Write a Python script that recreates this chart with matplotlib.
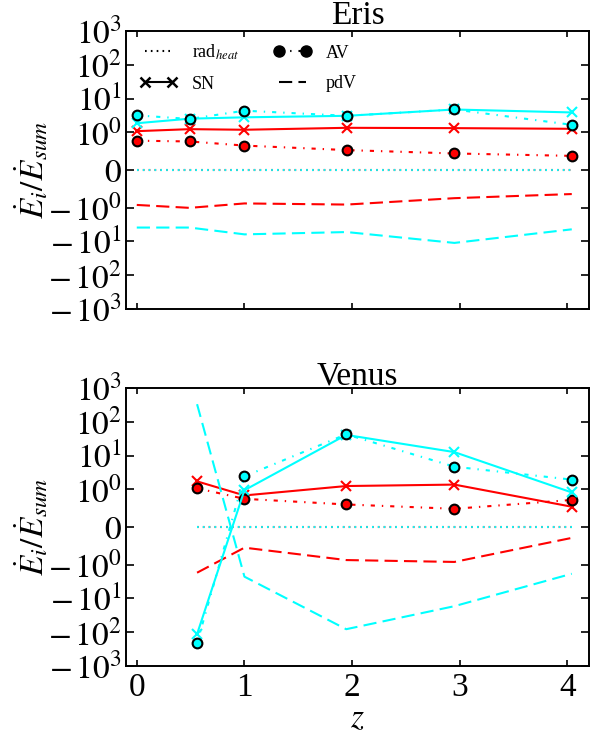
import matplotlib
matplotlib.use("Agg")
import matplotlib.pyplot as plt
from matplotlib.ticker import FixedLocator, NullLocator, FuncFormatter
from matplotlib.lines import Line2D
from matplotlib.legend_handler import HandlerLine2D
import math

plt.rcParams['font.family'] = 'serif'
plt.rcParams['font.serif'] = ['Liberation Serif', 'DejaVu Serif']
plt.rcParams['mathtext.fontset'] = 'stix'
plt.rcParams['lines.scale_dashes'] = False

# ---------------- data ----------------
eris_z = [0.0, 0.49, 1.0, 1.95, 2.95, 4.04]
eris_red_sn = [1.09, 1.25, 1.2, 1.37, 1.34, 1.28]
eris_red_av = [0.78, 0.76, 0.65, 0.53, 0.44, 0.376]
eris_red_pdv = [-0.93, -1.02, -0.89, -0.92, -0.75, -0.64]
eris_red_rad = [0, 0, 0, 0, 0, 0]
eris_cyan_sn = [1.87, 2.55, 2.8, 3.1, 4.77, 3.9]
eris_cyan_av = [3.2, 2.5, 4.4, 3.1, 4.77, 1.68]
eris_cyan_pdv = [-3.9, -3.9, -6.2, -5.3, -11.1, -4.4]
eris_cyan_rad = [0, 0, 0, 0, 0, 0]

venus_z = [0.56, 1.0, 1.945, 2.95, 4.04]
venus_red_sn = [1.73, 0.84, 1.26, 1.39, 0.54]
venus_red_av = [1.08, 0.75, 0.60, 0.485, 0.72]
venus_red_pdv = [-1.74, -0.55, -0.88, -0.93, -0.29]
venus_red_rad = [0, 0, 0, 0, 0]
venus_cyan_sn = [-114, 0.98, 41, 12.7, 0.92]
venus_cyan_av = [-209, 2.43, 42.7, 4.7, 1.95]
venus_cyan_pdv = [332, -2.28, -81.6, -17, -1.87]
venus_cyan_rad = [0, 0, 0, 0, 0]

titles = ["Eris", "Venus"]
yticks = [-1000, -100, -10, -1, 0, 1, 10, 100, 1000]
xticks = [0, 1, 2, 3, 4]
legend_labels = ["rad$_{heat}$", "SN", "AV", "pdV"]

W, H = 602, 734
fig = plt.figure(figsize=(W / 100, H / 100), dpi=100)

left = 126 / W
width = (589 - 126) / W
ax1 = fig.add_axes([left, 1 - 309 / H, width, (309 - 31) / H])
ax2 = fig.add_axes([left, 1 - 666 / H, width, (666 - 388) / H])

lw = 1.5
ms_o = 7
ms_x = 7
DASHED = (0, (9.5, 4.5))
DASHDOT = (0, (3, 5, 1, 5))
DOTTED = (0, (1.2, 3))


def draw(ax, z, series):
    for color, (rad, sn, av, pdv) in series:
        ax.plot(z, rad, linestyle=DOTTED, color=color, lw=lw)
        ax.plot(z, pdv, linestyle=DASHED, color=color, lw=lw)
        ax.plot(z, sn, linestyle='-', color=color, lw=lw, marker='x',
                ms=ms_x, mew=1.5, mec=color)
        ax.plot(z, av, linestyle=DASHDOT, color=color, lw=lw, marker='o',
                ms=ms_o, mfc=color, mec='black', mew=1.5)


draw(ax1, eris_z, [('red', (eris_red_rad, eris_red_sn, eris_red_av, eris_red_pdv)),
                   ('cyan', (eris_cyan_rad, eris_cyan_sn, eris_cyan_av, eris_cyan_pdv))])
draw(ax2, venus_z, [('red', (venus_red_rad, venus_red_sn, venus_red_av, venus_red_pdv)),
                    ('cyan', (venus_cyan_rad, venus_cyan_sn, venus_cyan_av, venus_cyan_pdv))])


def fmt(v, pos):
    if v == 0:
        return r'$0$'
    e = int(round(math.log10(abs(v))))
    if v > 0:
        return r'$10^{%d}$' % e
    return r'$-\,10^{%d}$' % e


for ax, t in zip([ax1, ax2], titles):
    ax.set_yscale('symlog', linthresh=1)
    ax.set_ylim(-1000, 1000)
    ax.set_xlim(-0.1, 4.2)
    ax.yaxis.set_major_locator(FixedLocator(yticks))
    ax.yaxis.set_major_formatter(FuncFormatter(fmt))
    ax.yaxis.set_minor_locator(NullLocator())
    ax.xaxis.set_major_locator(FixedLocator(xticks))
    ax.xaxis.set_minor_locator(NullLocator())
    ax.tick_params(axis='both', which='major', direction='in', top=True, right=True,
                   labelsize=24, width=1.2)
    ax.tick_params(axis='y', length=5.5, pad=3)
    ax.tick_params(axis='x', length=4.5, pad=5)
    for s in ax.spines.values():
        s.set_linewidth(1.4)
    ax.set_title(t, fontsize=24, pad=2.5)
    ax.set_ylabel(r'$\dot{E}_i/\dot{E}_{sum}$', fontsize=24, labelpad=-2)

ax1.tick_params(axis='x', labelbottom=False)
ax2.set_xlabel(r'$z$', fontsize=24, labelpad=0)

handles = [
    Line2D([], [], linestyle=DOTTED, color='black', lw=lw),
    Line2D([], [], linestyle='-', color='black', lw=lw, marker='x', ms=ms_x, mew=1.8),
    Line2D([], [], linestyle=DASHDOT, color='black', lw=lw, marker='o', ms=8, mfc='black'),
    Line2D([], [], linestyle=DASHED, color='black', lw=lw),
]
hmap = {h: HandlerLine2D(marker_pad=0.0, numpoints=2) for h in handles}
ax1.legend(handles, legend_labels, loc='upper left', bbox_to_anchor=(0.025, 0.984),
           borderaxespad=0, ncol=2, frameon=False, handler_map=hmap,
           fontsize=13, handlelength=1.5, handletextpad=1.1,
           columnspacing=2.2, labelspacing=0.75)

fig.savefig('out.png', dpi=100)
